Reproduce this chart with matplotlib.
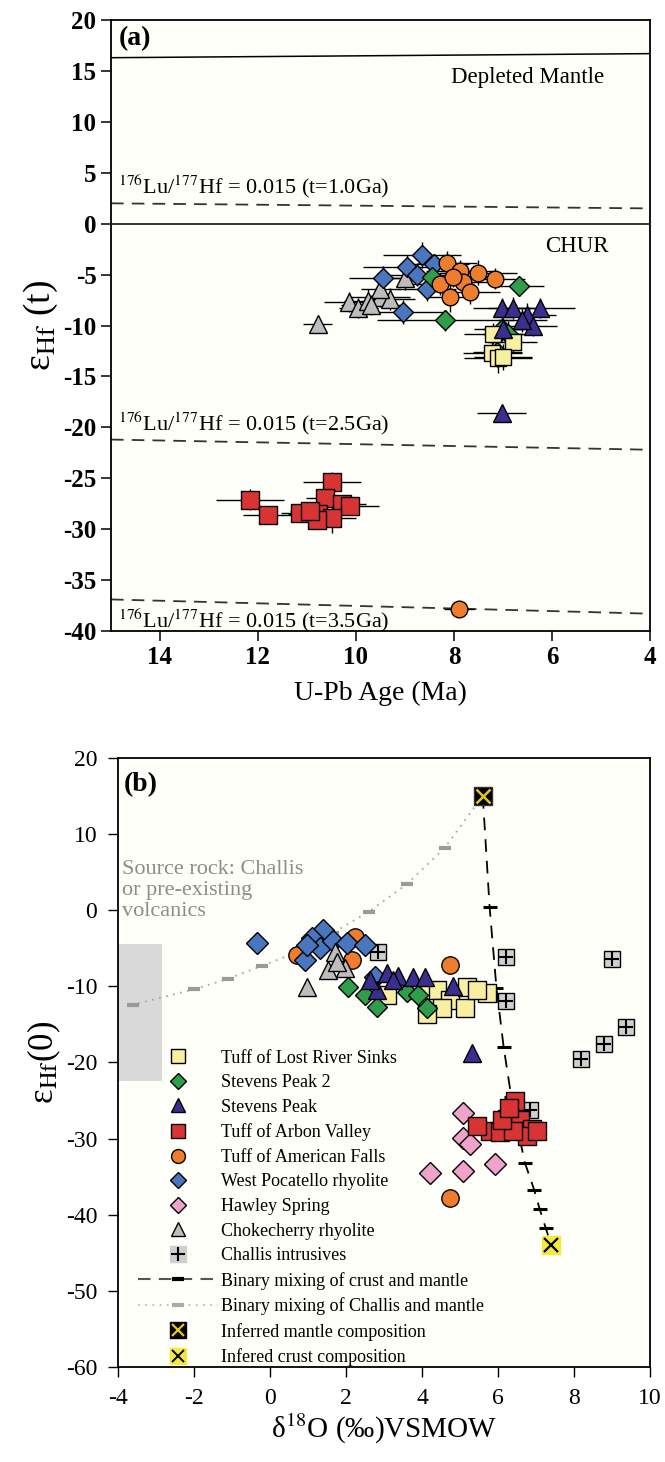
import matplotlib
matplotlib.use("Agg")
import matplotlib.pyplot as plt
from matplotlib.lines import Line2D

plt.rcParams['font.family'] = ['Liberation Serif', 'DejaVu Serif']
plt.rcParams['mathtext.fontset'] = 'stix'
plt.rcParams['axes.unicode_minus'] = False

#---------------------------------------------------------------
# (a) U-Pb age vs eHf(t), with 2-sigma errors
#---------------------------------------------------------------
choke_age = [10.78, 10.15, 9.95, 9.75, 9.5, 9.3, 9.5, 9.0, 9.7]
choke_age_err = [0.3, 0.5, 0.4, 0.5, 0.6, 0.5, 0.4, 0.5, 0.6]
choke_eps = [-9.9, -7.7, -8.3, -7.6, -7.2, -7.4, -6.4, -5.3, -8.0]
choke_eps_err = [0.8, 1.0, 1.0, 1.2, 1.0, 1.1, 1.0, 1.2, 1.0]

wpoc_age = [8.65, 8.95, 9.45, 9.05, 8.55, 8.4, 8.75]
wpoc_age_err = [0.8, 0.9, 0.7, 0.9, 0.6, 0.7, 0.8]
wpoc_eps = [-3.1, -4.3, -5.3, -8.7, -6.4, -4.0, -5.0]
wpoc_eps_err = [1.3, 1.2, 1.1, 1.2, 1.2, 1.0, 1.1]

sp2_age = [8.45, 8.18, 6.67, 7.12, 7.02, 6.9]
sp2_age_err = [0.6, 1.4, 0.5, 0.5, 0.4, 0.5]
sp2_eps = [-5.2, -9.5, -6.1, -12.6, -10.3, -10.8]
sp2_eps_err = [1.0, 1.0, 1.0, 1.5, 1.2, 1.2]

amf_age = [8.14, 7.88, 7.51, 7.16, 8.29, 7.82, 8.08, 7.67, 8.02, 7.9]
amf_age_err = [0.6, 0.7, 0.8, 0.6, 0.7, 0.6, 0.5, 0.6, 0.7, 0.3]
amf_eps = [-3.9, -4.6, -4.8, -5.4, -5.9, -5.7, -7.2, -6.7, -5.2, -37.8]
amf_eps_err = [1.2, 1.0, 1.2, 1.0, 1.1, 1.0, 1.5, 1.2, 1.0, 0.5]

lrs_age = [7.2, 6.8, 7.22, 7.1, 7.0]
lrs_age_err = [0.6, 0.5, 0.6, 0.7, 0.6]
lrs_eps = [-10.8, -11.6, -12.7, -13.2, -13.1]
lrs_eps_err = [1.0, 1.0, 1.2, 1.5, 1.3]

sp_age = [7.02, 6.8, 6.24, 6.51, 6.39, 7.0, 6.61, 7.02]
sp_age_err = [0.6, 0.5, 0.7, 0.6, 0.5, 0.6, 0.5, 0.5]
sp_eps = [-8.3, -8.3, -8.3, -9.0, -10.0, -10.3, -9.5, -18.6]
sp_eps_err = [1.0, 1.1, 1.0, 1.2, 1.0, 1.0, 1.1, 0.6]

arb_age = [12.16, 11.8, 11.14, 10.49, 10.63, 10.78, 10.29, 10.12, 10.49, 10.8, 10.94]
arb_age_err = [0.7, 0.5, 0.4, 0.6, 0.4, 0.6, 0.5, 0.6, 0.5, 0.4, 0.4]
arb_eps = [-27.1, -28.6, -28.4, -25.4, -26.9, -28.5, -27.5, -27.7, -28.9, -29.1, -28.2]
arb_eps_err = [1.0, 0.8, 0.6, 1.0, 0.8, 0.9, 0.8, 0.8, 1.5, 0.9, 0.8]

# reference evolution lines (age ends 15 and 4 Ma)
ref_age = [15, 4]
dm_eps = [16.3, 16.7]
lu10_eps = [2.0, 1.5]
lu25_eps = [-21.2, -22.2]
lu35_eps = [-36.9, -38.3]

#---------------------------------------------------------------
# (b) d18O vs eHf(0)
#---------------------------------------------------------------
lrs_d18o = [3.08, 4.39, 4.74, 5.18, 5.71, 5.13, 4.53, 4.13, 3.95, 5.45]
lrs_hf0 = [-11.2, -10.5, -11.8, -10.1, -10.9, -12.8, -12.9, -13.6, -10.5, -10.5]

sp2_d18o = [2.05, 2.5, 2.82, 3.61, 3.9, 4.13]
sp2_hf0 = [-10.1, -11.2, -12.7, -10.8, -11.2, -12.8]

sp_d18o = [2.82, 3.08, 3.37, 3.76, 4.08, 4.82, 2.63, 3.24, 5.32]
sp_hf0 = [-10.5, -8.3, -8.6, -8.8, -8.8, -9.9, -9.2, -9.2, -18.7]

arb_d18o = [6.45, 6.24, 6.58, 6.89, 5.79, 5.45, 6.05, 6.76, 6.39, 6.1, 7.03, 6.3]
arb_hf0 = [-25.0, -27.4, -27.6, -28.7, -29.0, -28.3, -29.2, -29.6, -29.0, -27.6, -29.0, -26.0]

amf_d18o = [2.24, 2.16, 4.74, 0.71, 4.75]
amf_hf0 = [-3.5, -6.6, -7.2, -5.9, -37.8]

wpoc_d18o = [-0.34, 1.39, 1.1, 0.92, 1.32, 1.66, 2.03, 2.5, 2.76, 0.97]
wpoc_hf0 = [-4.3, -2.6, -3.7, -6.6, -5.0, -4.0, -4.3, -4.6, -8.8, -4.6]

hawley_d18o = [5.08, 5.08, 5.26, 4.2, 5.08, 5.92]
hawley_hf0 = [-26.7, -29.9, -30.7, -34.5, -34.2, -33.3]

choke_d18o = [0.97, 1.71, 1.53, 1.97, 1.76]
choke_hf0 = [-10.1, -5.5, -7.9, -7.6, -6.8]

challis_d18o = [2.84, 6.2, 9.0, 6.2, 9.37, 8.78, 8.19, 6.84]
challis_hf0 = [-5.5, -6.2, -6.4, -11.9, -15.4, -17.6, -19.6, -26.3]

mix_cm_d18o = [5.6, 5.78, 5.96, 6.15, 6.35, 6.55, 6.71, 6.95, 7.1, 7.26, 7.4]
mix_cm_hf0 = [15, 0.4, -10.2, -18.0, -24.5, -29.5, -33.2, -36.7, -39.3, -41.8, -44]

mix_chm_d18o = [5.6, 4.6, 3.6, 2.6, 1.65, 0.72, -0.2, -1.1, -2.0, -3.6]
mix_chm_hf0 = [15, 8.2, 3.4, -0.2, -3.0, -5.5, -7.3, -9.0, -10.4, -12.4]

mantle_d18o, mantle_hf0 = 5.6, 15
crust_d18o, crust_hf0 = 7.4, -44

# source rock field (d18O range, eHf range)
src_x = [-4.0, -2.85]
src_y = [-22.5, -4.4]

# marker colours per unit
C_LRS = '#f8efa2'
C_SP2 = '#2e9e4a'
C_SP = '#3a2f8f'
C_ARB = '#d93434'
C_AMF = '#ee7d2d'
C_WPOC = '#4a76bf'
C_HAW = '#efa3c9'
C_CHOKE = '#bdbdbd'
BG = '#fffff9'

fig = plt.figure(figsize=(6.65, 14.62), dpi=100)

#---------------------------------------------------------------
# panel (a)
#---------------------------------------------------------------
ax1 = fig.add_axes([0.1669, 0.5684, 0.8105, 0.4179])
ax1.set_facecolor(BG)

ax1.plot(ref_age, dm_eps, color='black', lw=1.1)
ax1.axhline(0, color='black', lw=1.1)
for yy in (lu10_eps, lu25_eps, lu35_eps):
    ax1.plot(ref_age, yy, color='#333333', lw=1.3, dashes=(7, 4.5))

def plot_err(ax, x, xe, y, ye, marker, color, ms):
    ax.errorbar(x, y, xerr=xe, yerr=ye, fmt='none', ecolor='black', elinewidth=1.0, capsize=0, zorder=2)
    ax.plot(x, y, linestyle='none', marker=marker, ms=ms, mfc=color, mec='black', mew=1.0, zorder=3)

plot_err(ax1, arb_age, arb_age_err, arb_eps, arb_eps_err, 's', C_ARB, 13)
plot_err(ax1, choke_age, choke_age_err, choke_eps, choke_eps_err, '^', C_CHOKE, 13)
plot_err(ax1, wpoc_age, wpoc_age_err, wpoc_eps, wpoc_eps_err, 'D', C_WPOC, 10)
plot_err(ax1, sp2_age, sp2_age_err, sp2_eps, sp2_eps_err, 'D', C_SP2, 10)
plot_err(ax1, amf_age, amf_age_err, amf_eps, amf_eps_err, 'o', C_AMF, 12)
plot_err(ax1, lrs_age, lrs_age_err, lrs_eps, lrs_eps_err, 's', C_LRS, 12)
plot_err(ax1, sp_age, sp_age_err, sp_eps, sp_eps_err, '^', C_SP, 13)

ax1.text(14.85, 18.2, '(a)', fontsize=20, fontweight='bold', va='center', ha='left')
ax1.text(6.5, 14.4, 'Depleted Mantle', fontsize=16.5, ha='center', va='center')
ax1.text(5.5, -2.2, 'CHUR', fontsize=16.5, ha='center', va='center')
lu_txt = r'$^{176}$Lu/$^{177}$Hf = 0.015 (t=%s)'
ax1.text(14.85, 2.3, lu_txt % '1.0Ga', fontsize=16, ha='left', va='bottom')
ax1.text(14.85, -20.9, lu_txt % '2.5Ga', fontsize=16, ha='left', va='bottom')
ax1.text(14.85, -39.0, lu_txt % '3.5Ga', fontsize=16, ha='left', va='center')

ax1.set_xlim(15, 4)
ax1.set_ylim(-40, 20)
ax1.set_xticks([14, 12, 10, 8, 6, 4])
ax1.set_yticks(range(-40, 21, 5))
ax1.tick_params(direction='out', length=7, width=1.1, labelsize=18, top=False, right=False)
for lab in ax1.get_xticklabels() + ax1.get_yticklabels():
    lab.set_fontweight('bold')
ax1.set_xlabel('U-Pb Age (Ma)', fontsize=20, labelpad=9)
ax1.set_ylabel(r'ε$_{\mathrm{Hf}}$ (t)', fontsize=27, labelpad=2)
for s in ax1.spines.values():
    s.set_linewidth(1.3)

#---------------------------------------------------------------
# panel (b)
#---------------------------------------------------------------
ax2 = fig.add_axes([0.1774, 0.0650, 0.8, 0.4166])
ax2.set_facecolor(BG)

ax2.fill_between(src_x, src_y[0], src_y[1], color='#d9d9d9', lw=0, zorder=1)
ax2.text(-3.9, 6.6, 'Source rock: Challis\nor pre-existing\nvolcanics', color='#8c8c8c',
         fontsize=16, ha='left', va='top', linespacing=1.15, zorder=2)

ax2.plot(mix_chm_d18o, mix_chm_hf0, color='#a8a8a8', lw=1.3, linestyle=(0, (1, 3)), zorder=2)
ax2.plot(mix_chm_d18o[1:], mix_chm_hf0[1:], linestyle='none', marker='_', ms=9, mew=3,
         color='#9a9a9a', zorder=2)
ax2.plot(mix_cm_d18o, mix_cm_hf0, color='black', lw=1.3, dashes=(7, 5), zorder=2)
ax2.plot(mix_cm_d18o[1:-1], mix_cm_hf0[1:-1], linestyle='none', marker='_', ms=10, mew=2.2,
         color='black', zorder=2)

def plot_pts(ax, x, y, marker, color, ms, z=3):
    ax.plot(x, y, linestyle='none', marker=marker, ms=ms, mfc=color, mec='black', mew=1.0, zorder=z)

plot_pts(ax2, challis_d18o, challis_hf0, 's', '#cfcfcf', 11)
ax2.plot(challis_d18o, challis_hf0, linestyle='none', marker='+', ms=10, mew=1.5, color='black', zorder=3)
plot_pts(ax2, amf_d18o, amf_hf0, 'o', C_AMF, 12.5)
plot_pts(ax2, wpoc_d18o, wpoc_hf0, 'D', C_WPOC, 11.5)
plot_pts(ax2, choke_d18o, choke_hf0, '^', C_CHOKE, 13.5)
plot_pts(ax2, lrs_d18o, lrs_hf0, 's', C_LRS, 12.5)
plot_pts(ax2, sp2_d18o, sp2_hf0, 'D', C_SP2, 10.5)
plot_pts(ax2, sp_d18o, sp_hf0, '^', C_SP, 12.5)
plot_pts(ax2, hawley_d18o, hawley_hf0, 'D', C_HAW, 11.5)
plot_pts(ax2, arb_d18o, arb_hf0, 's', C_ARB, 12.5)

ax2.plot(mantle_d18o, mantle_hf0, marker='s', ms=13, mfc='black', mec='#333333', zorder=4)
ax2.plot(mantle_d18o, mantle_hf0, marker='x', ms=10, mew=1.8, color='#e6c619', zorder=5)
ax2.plot(crust_d18o, crust_hf0, marker='s', ms=13, mfc='#f5e83c', mec='#f5e83c', zorder=4)
ax2.plot(crust_d18o, crust_hf0, marker='x', ms=10, mew=1.6, color='black', zorder=5)

ax2.text(-3.85, 16.5, '(b)', fontsize=20, fontweight='bold', va='center', ha='left')

def mk(marker, color, ms=10):
    return Line2D([], [], linestyle='none', marker=marker, ms=ms, mfc=color, mec='black', mew=1.0)

handles = [
    mk('s', C_LRS),
    mk('D', C_SP2, 8),
    mk('^', C_SP),
    mk('s', C_ARB),
    mk('o', C_AMF),
    mk('D', C_WPOC, 8),
    mk('D', C_HAW, 8),
    mk('^', C_CHOKE),
    (Line2D([], [], linestyle='none', marker='s', ms=11, mfc='#cfcfcf', mec='#cfcfcf'),
     Line2D([], [], linestyle='none', marker='+', ms=10, mew=1.5, color='black')),
    (Line2D([], [], color='#555555', lw=1.5, dashes=(6, 4)),
     Line2D([], [], linestyle='none', marker='_', ms=9, mew=3, color='black')),
    (Line2D([], [], color='#bbbbbb', lw=1.3, linestyle=(0, (1, 3))),
     Line2D([], [], linestyle='none', marker='_', ms=9, mew=3, color='#aaaaaa')),
    (Line2D([], [], linestyle='none', marker='s', ms=11, mfc='black', mec='black'),
     Line2D([], [], linestyle='none', marker='x', ms=9, mew=1.6, color='#e6c619')),
    (Line2D([], [], linestyle='none', marker='s', ms=11, mfc='#f5e83c', mec='#f5e83c'),
     Line2D([], [], linestyle='none', marker='x', ms=9, mew=1.4, color='black')),
]
labels = [
    'Tuff of Lost River Sinks', 'Stevens Peak 2', 'Stevens Peak', 'Tuff of Arbon Valley',
    'Tuff of American Falls', 'West Pocatello rhyolite', 'Hawley Spring', 'Chokecherry rhyolite',
    'Challis intrusives', 'Binary mixing of crust and mantle', 'Binary mixing of Challis and mantle',
    'Inferred mantle composition', 'Infered crust composition',
]
ax2.legend(handles, labels, loc='upper left', bbox_to_anchor=(0.038, 0.521), frameon=False,
           fontsize=13, handlelength=4.4, handletextpad=0.2, labelspacing=0.42,
           borderpad=0, borderaxespad=0, numpoints=1)

ax2.set_xlim(-4, 10)
ax2.set_ylim(-60, 20)
ax2.set_xticks(range(-4, 11, 2))
ax2.set_yticks(range(-60, 21, 10))
ax2.tick_params(direction='out', length=7, width=1.0, labelsize=17, top=False, right=False, pad=8)
ax2.set_xlabel(r'δ$^{18}$O (‰)VSMOW', fontsize=21, labelpad=2)
ax2.set_ylabel(r'ε$_{\mathrm{Hf}}$(0)', fontsize=25, labelpad=2)
for s in ax2.spines.values():
    s.set_linewidth(1.3)

fig.savefig('out.png', dpi=100, facecolor='white')
